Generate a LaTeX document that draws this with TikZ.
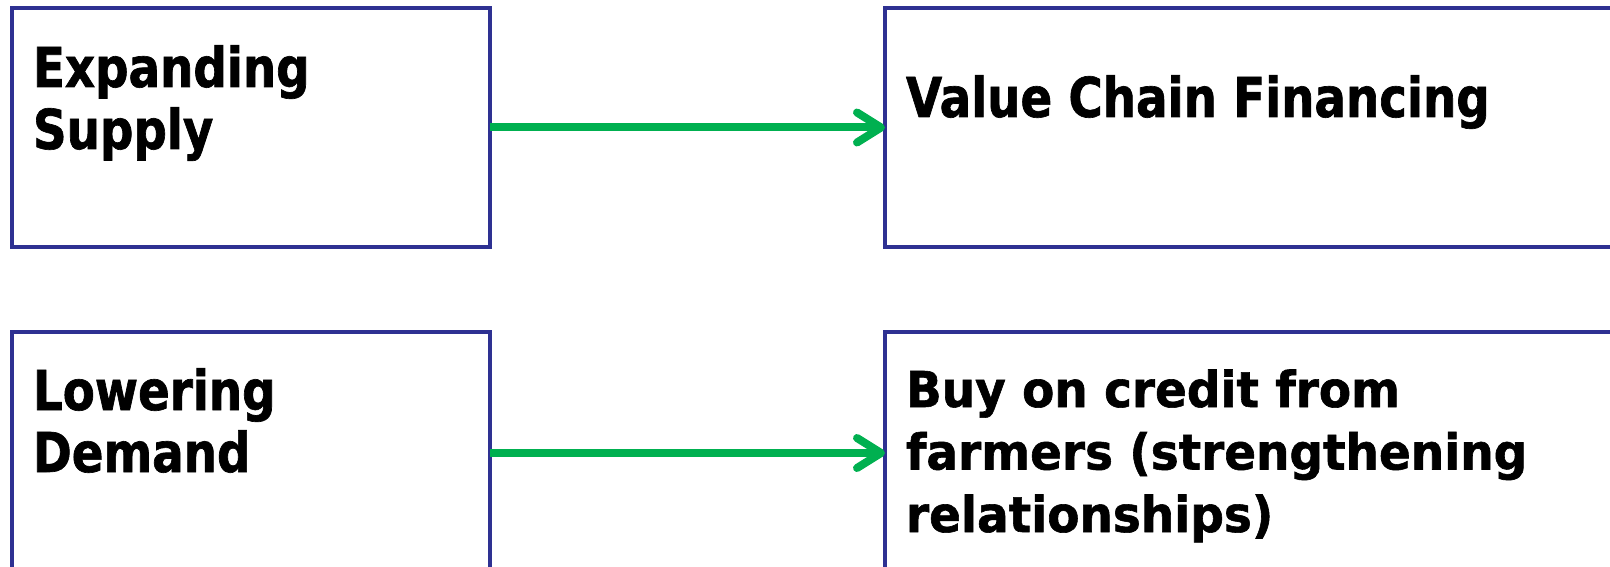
\documentclass[tikz,border=0pt]{standalone}
\usepackage{fontspec}
\usetikzlibrary{arrows.meta}
\newfontfamily\boxfont{DejaVu Sans}[FakeStretch=0.85, FakeBold=1.2]
\newfontfamily\boxfontb{DejaVu Sans}[FakeStretch=0.95, FakeBold=1.2]
\definecolor{boxblue}{RGB}{46,49,146}
\definecolor{arrowgreen}{RGB}{0,176,80}
\tikzset{
  framebox/.style={draw=boxblue, line width=4pt, rectangle, inner sep=0pt, outer sep=0pt},
  bigtext/.style={inner sep=0pt, outer sep=0pt, align=left, anchor=base west,
    font=\boxfont\bfseries\fontsize{55}{62}\selectfont},
  smalltext/.style={inner sep=0pt, outer sep=0pt, align=left, anchor=base west,
    font=\boxfontb\bfseries\fontsize{49.4}{62.5}\selectfont},
  flowarrow/.style={draw=arrowgreen, line width=8pt,
    -{Straight Barb[length=24pt,width=30pt,round]}}
}
\begin{document}
\begin{tikzpicture}[x=1pt,y=-1pt]
\useasboundingbox (0,0) rectangle (1610,567);
\clip (0,0) rectangle (1610,567);
\node[framebox, minimum width=478pt, minimum height=239pt, anchor=north west] (supplybox) at (12,8) {};
\node[framebox, minimum width=478pt, minimum height=242pt, anchor=north west] (demandbox) at (12,332) {};
\node[framebox, minimum width=765pt, minimum height=239pt, anchor=north west] (vcfbox) at (885,8) {};
\node[framebox, minimum width=765pt, minimum height=242pt, anchor=north west] (creditbox) at (885,332) {};
\node[bigtext] (supplytext) at (33,149) {Expanding\\Supply};
\node[bigtext] (demandtext) at (33,472) {Lowering\\Demand};
\node[bigtext] (vcftext) at (906,117) {Value Chain Financing};
\node[smalltext] (credittext) at (906,532) {Buy on credit from\\farmers (strengthening\\relationships)};
\draw[flowarrow] (supplybox.east) -- (vcfbox.west);
\draw[flowarrow] (demandbox.east) -- (creditbox.west);
\end{tikzpicture}
\end{document}
